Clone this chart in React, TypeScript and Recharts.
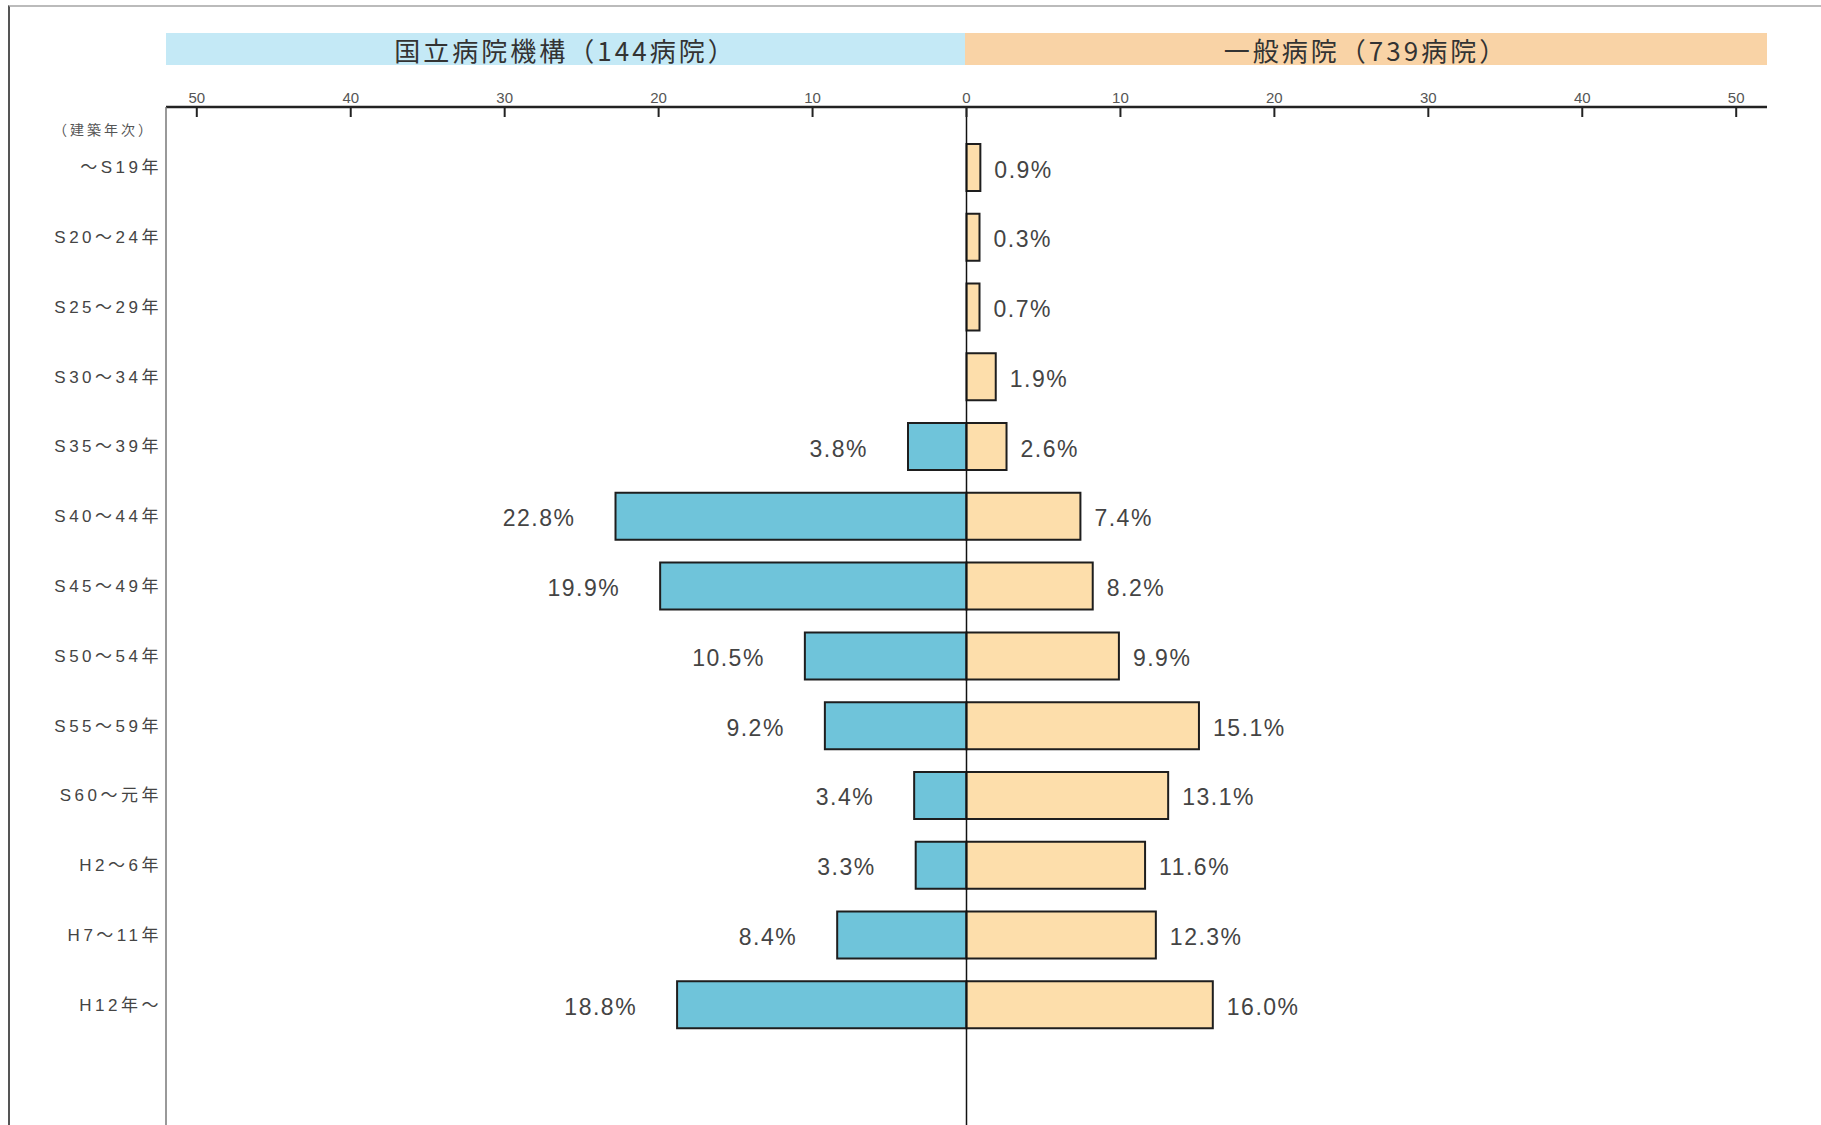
import { BarChart, Bar, XAxis, YAxis, ReferenceLine, LabelList } from "recharts";

// 建築年次
const categories = [
    "～S19年",
    "S20～24年",
    "S25～29年",
    "S30～34年",
    "S35～39年",
    "S40～44年",
    "S45～49年",
    "S50～54年",
    "S55～59年",
    "S60～元年",
    "H2～6年",
    "H7～11年",
    "H12年～",
];

// 国立病院機構 (144病院) — % share, no bar where null
const nationalShare = [null, null, null, null, 3.8, 22.8, 19.9, 10.5, 9.2, 3.4, 3.3, 8.4, 18.8];
// 一般病院 (739病院)
const generalShare = [0.9, 0.3, 0.7, 1.9, 2.6, 7.4, 8.2, 9.9, 15.1, 13.1, 11.6, 12.3, 16.0];

const xTicks = [-50, -40, -30, -20, -10, 0, 10, 20, 30, 40, 50];

const COLORS = {
    national: "#6fc4da",
    general: "#fddeab",
    nationalBand: "#c4e9f6",
    generalBand: "#f9d3a6",
};

const AXIS_Y = 107;
const LABEL_FONT = "'Liberation Sans', Arial, 'Noto Sans CJK JP', sans-serif";

const data = categories.map((name, i) => ({
    name,
    national: nationalShare[i] == null ? null : -(nationalShare[i] as number),
    general: generalShare[i],
}));

function TopTick({ x, payload }: any) {
    return (
        <g>
            <line x1={x} x2={x} y1={AXIS_Y} y2={AXIS_Y + 10} stroke="#222" strokeWidth={2} />
            <text
                x={x}
                y={AXIS_Y - 4}
                textAnchor="middle"
                fontSize={15}
                fill="#555"
                fontFamily={LABEL_FONT}
            >
                {Math.abs(payload.value)}
            </text>
        </g>
    );
}

function CategoryTick({ x, y, payload }: any) {
    return (
        <text
            x={x}
            y={y}
            textAnchor="end"
            dominantBaseline="central"
            fontSize={17}
            letterSpacing={3.5}
            fill="#444"
            fontFamily={LABEL_FONT}
        >
            {payload.value}
        </text>
    );
}

const makeLabel = (side: "left" | "right") => (props: any) => {
    const { x, y, width, height, value } = props;
    if (value == null || value === 0) return null;
    const left = Math.min(x, x + width);
    const right = Math.max(x, x + width);
    const tx = side === "left" ? left - 40 : right + 14;
    return (
        <text
            x={tx}
            y={y + height / 2 + 2}
            textAnchor={side === "left" ? "end" : "start"}
            dominantBaseline="central"
            fontSize={23}
            letterSpacing={1.5}
            fill="#444"
            fontFamily={LABEL_FONT}
        >
            {Math.abs(value).toFixed(1)}%
        </text>
    );
};

export default function App() {
    return (
        <div
            style={{
                position: "absolute",
                left: 0,
                top: 0,
                width: 1821,
                height: 1125,
                background: "#fff",
                overflow: "hidden",
                fontFamily: "'Noto Sans CJK JP', sans-serif",
            }}
        >
            {/* page frame */}
            <div
                style={{
                    position: "absolute",
                    left: 8,
                    top: 5,
                    width: 1830,
                    height: 1130,
                    borderLeft: "2px solid #555",
                    borderTop: "2px solid #bbb",
                }}
            />

            {/* header bands */}
            <div
                style={{
                    position: "absolute",
                    left: 166,
                    top: 33,
                    width: 799,
                    height: 32,
                    background: COLORS.nationalBand,
                    display: "flex",
                    alignItems: "center",
                    justifyContent: "center",
                    fontSize: 26,
                    letterSpacing: 3,
                    color: "#333",
                }}
            >
                国立病院機構（144病院）
            </div>
            <div
                style={{
                    position: "absolute",
                    left: 965,
                    top: 33,
                    width: 802,
                    height: 32,
                    background: COLORS.generalBand,
                    display: "flex",
                    alignItems: "center",
                    justifyContent: "center",
                    fontSize: 26,
                    letterSpacing: 3,
                    color: "#333",
                }}
            >
                一般病院（739病院）
            </div>

            <div
                style={{
                    position: "absolute",
                    left: 30,
                    top: 119,
                    width: 125,
                    textAlign: "right",
                    fontSize: 14,
                    letterSpacing: 3,
                    color: "#555",
                }}
            >
                （建築年次）
            </div>

            <div style={{ position: "absolute", left: 0, top: 0 }}>
                <BarChart
                    width={1821}
                    height={1125}
                    data={data}
                    layout="vertical"
                    stackOffset="sign"
                    margin={{ top: 67, right: 54, bottom: 0, left: 16 }}
                    barSize={47}
                >
                    <XAxis
                        type="number"
                        orientation="top"
                        domain={[-52, 52]}
                        ticks={xTicks}
                        height={40}
                        tickLine={false}
                        axisLine={{ stroke: "#222", strokeWidth: 2.5 }}
                        tick={<TopTick />}
                        interval={0}
                    />
                    <YAxis
                        type="category"
                        dataKey="name"
                        width={150}
                        tickLine={false}
                        tickSize={0}
                        tickMargin={4}
                        axisLine={{ stroke: "#777", strokeWidth: 1.5 }}
                        tick={<CategoryTick />}
                        padding={{ top: 26, bottom: 85 }}
                        interval={0}
                    />
                    <Bar
                        dataKey="national"
                        stackId="a"
                        fill={COLORS.national}
                        stroke="#1e1e1e"
                        strokeWidth={2}
                        isAnimationActive={false}
                    >
                        <LabelList dataKey="national" content={makeLabel("left")} />
                    </Bar>
                    <Bar
                        dataKey="general"
                        stackId="a"
                        fill={COLORS.general}
                        stroke="#1e1e1e"
                        strokeWidth={2}
                        minPointSize={13}
                        isAnimationActive={false}
                    >
                        <LabelList dataKey="general" content={makeLabel("right")} />
                    </Bar>
                    <ReferenceLine x={0} stroke="#111" strokeWidth={1.5} />
                </BarChart>
            </div>
        </div>
    );
}
